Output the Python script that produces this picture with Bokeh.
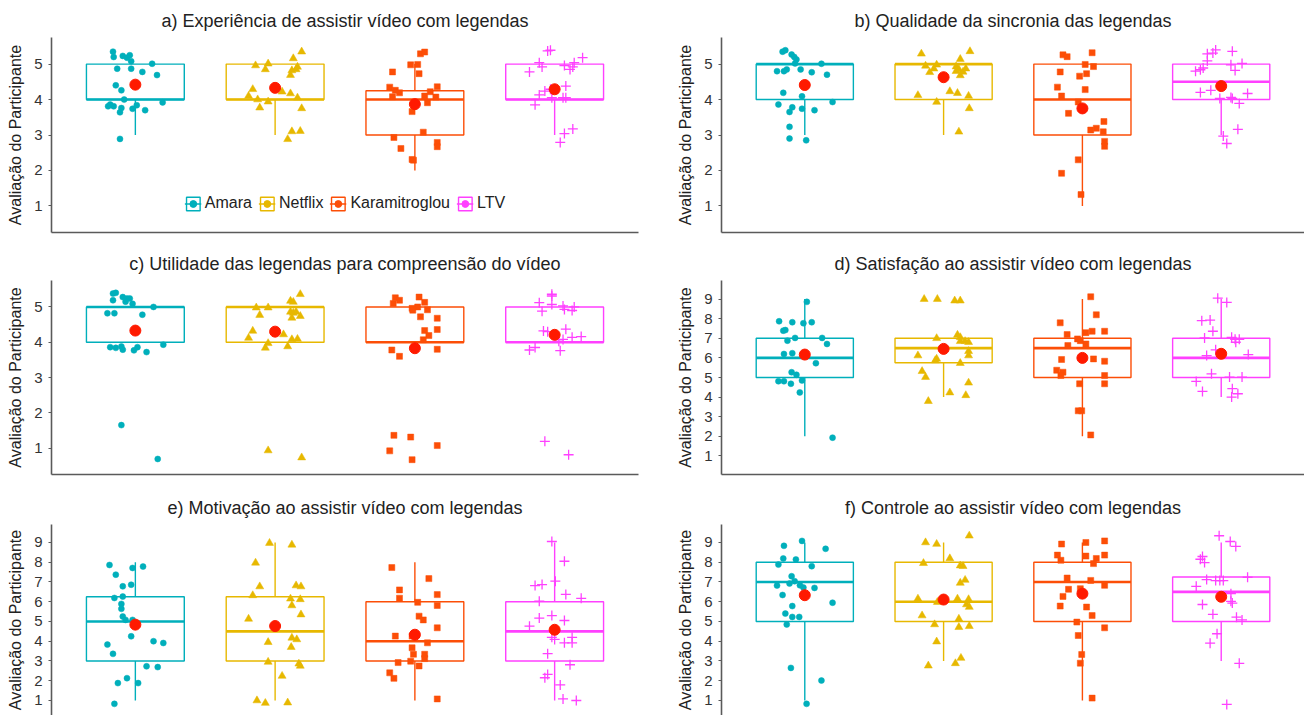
from bokeh.plotting import figure
from bokeh.layouts import gridplot
from bokeh.models import Range1d, FixedTicker, Legend, LegendItem, ColumnDataSource
from bokeh.embed import file_html
from bokeh.resources import INLINE

groups = ["Amara", "Netflix", "Karamitroglou", "LTV"]
colors = ["#00AFBB", "#E7B800", "#FC4E07", "#FF40FF"]
markers = ["circle", "triangle", "square", "cross"]
msizes = [6, 8, 6, 10]

titles = [
    "a) Experiência de assistir vídeo com legendas",
    "b) Qualidade da sincronia das legendas",
    "c) Utilidade das legendas para compreensão do vídeo",
    "d) Satisfação ao assistir vídeo com legendas",
    "e) Motivação ao assistir vídeo com legendas",
    "f) Controle ao assistir vídeo com legendas",
]
y_label = "Avaliação do Participante"
ticks_5 = [1, 2, 3, 4, 5]
ticks_9 = [1, 2, 3, 4, 5, 6, 7, 8, 9]

# ---------------- box statistics (Amara, Netflix, Karamitroglou, LTV) ----------------
a_q1 = [4, 4, 3, 4]; a_med = [4, 4, 4, 4]; a_q3 = [5, 5, 4.25, 5]; a_lo = [3, 3, 2, 3]; a_hi = [5, 5, 5, 5]
a_mean = [4.42, 4.33, 3.87, 4.29]
b_q1 = [4, 4, 3, 4]; b_med = [5, 5, 4, 4.5]; b_q3 = [5, 5, 5, 5]; b_lo = [3, 3, 1, 3]; b_hi = [5, 5, 5, 5]
b_mean = [4.41, 4.63, 3.75, 4.38]
c_q1 = [4, 4, 4, 4]; c_med = [5, 5, 4, 4]; c_q3 = [5, 5, 5, 5]; c_lo = [4, 4, 4, 4]; c_hi = [5, 5, 5, 5]
c_mean = [4.33, 4.30, 3.83, 4.21]
d_q1 = [5, 5.75, 5, 5]; d_med = [6, 6.5, 6.5, 6]; d_q3 = [7, 7, 7, 7]; d_lo = [2, 4, 2, 4]; d_hi = [9, 7, 9, 9]
d_mean = [6.17, 6.46, 6.0, 6.21]
e_q1 = [3, 3, 3, 3]; e_med = [5, 4.5, 4, 4.5]; e_q3 = [6.25, 6.25, 6, 6]; e_lo = [1, 1, 1, 1]; e_hi = [8, 9, 8, 9]
e_mean = [4.84, 4.77, 4.33, 4.58]
f_q1 = [5, 5, 5, 5]; f_med = [7, 6, 7, 6.5]; f_q3 = [8, 8, 8, 7.25]; f_lo = [1, 3, 1, 3]; f_hi = [9, 9, 9, 9]
f_mean = [6.33, 6.11, 6.41, 6.25]

# ---------------- jittered participant ratings (value, horizontal jitter) ----------------
a_amara_y = [5.35, 5.20, 5.23, 5.18, 5.25, 5.08, 4.87, 4.87, 4.78, 5.01, 4.69, 4.40, 4.26, 4.00, 3.81, 3.86, 3.81, 3.76, 3.64, 3.74, 3.84, 3.70, 3.92, 2.89]
a_amara_jit = [-0.16, -0.155, -0.09, -0.06, -0.04, -0.03, -0.13, -0.03, 0.05, 0.12, 0.155, -0.14, -0.10, -0.08, -0.195, -0.18, -0.155, -0.10, -0.11, -0.02, 0.01, 0.07, 0.195, -0.11]
a_netflix_y = [4.96, 5.01, 4.85, 5.35, 5.16, 4.82, 4.85, 4.92, 4.69, 4.29, 4.10, 4.00, 3.94, 3.77, 4.22, 4.17, 4.05, 3.75, 3.10, 3.11, 2.88]
a_netflix_jit = [-0.14, -0.05, -0.07, 0.19, 0.13, 0.12, 0.15, 0.16, 0.11, -0.16, -0.19, -0.125, -0.05, -0.11, 0.05, 0.11, 0.16, 0.19, 0.12, 0.18, 0.09]
a_karam_y = [5.29, 5.34, 4.98, 4.99, 4.78, 4.73, 4.35, 4.26, 4.19, 4.08, 4.36, 4.22, 4.10, 3.91, 4.07, 3.66, 2.93, 3.08, 2.79, 2.67, 2.62, 2.31, 2.29]
a_karam_jit = [0.04, 0.07, -0.03, 0.02, -0.16, 0.03, -0.18, -0.14, -0.11, -0.16, 0.16, 0.11, 0.07, 0.09, 0.15, -0.02, -0.15, 0.06, 0.16, 0.16, -0.10, -0.02, -0.01]
a_ltv_y = [5.37, 5.39, 5.18, 5.04, 5.04, 4.92, 4.78, 4.96, 4.85, 4.92, 4.38, 4.13, 4.24, 4.29, 4.05, 4.05, 3.85, 4.05, 3.04, 3.17, 2.79]
a_ltv_jit = [-0.05, -0.03, 0.20, 0.14, -0.11, -0.09, -0.18, 0.07, 0.11, 0.13, 0.08, -0.11, -0.07, -0.03, 0.06, 0.08, -0.14, -0.02, 0.07, 0.13, 0.04]

b_amara_y = [5.35, 5.39, 5.27, 5.20, 5.13, 5.02, 5.01, 4.80, 4.80, 4.85, 4.85, 4.77, 4.70, 4.19, 4.09, 3.93, 3.86, 3.78, 3.65, 3.74, 3.70, 3.23, 2.90, 2.85]
b_amara_jit = [-0.16, -0.14, -0.095, -0.076, -0.06, -0.07, 0.12, -0.20, -0.15, -0.13, -0.03, 0.05, 0.16, -0.155, -0.02, 0.20, -0.19, -0.09, -0.11, -0.02, 0.07, -0.11, -0.11, 0.01]
b_netflix_y = [5.29, 5.36, 5.14, 4.95, 4.98, 4.87, 4.77, 4.93, 4.85, 4.78, 4.87, 4.68, 4.80, 4.12, 4.23, 4.18, 4.10, 3.93, 3.75, 3.09]
b_netflix_jit = [-0.16, 0.19, 0.12, -0.13, -0.05, -0.07, -0.10, 0.09, 0.11, 0.14, 0.16, 0.12, 0.09, -0.185, 0.045, 0.10, 0.18, -0.05, 0.185, 0.11]
b_karam_y = [5.26, 5.21, 5.32, 4.78, 4.99, 4.93, 4.73, 4.66, 4.35, 4.28, 4.10, 3.93, 3.61, 3.38, 3.19, 3.14, 3.09, 2.82, 2.68, 2.30, 1.92, 1.32]
b_karam_jit = [-0.14, -0.11, 0.07, -0.16, 0.02, 0.08, 0.03, -0.02, -0.18, 0.02, -0.15, -0.03, -0.10, 0.155, 0.10, 0.06, 0.15, 0.16, 0.16, -0.03, -0.15, -0.01]
b_ltv_y = [5.29, 5.31, 5.40, 5.36, 5.09, 4.89, 4.80, 4.84, 4.98, 4.82, 5.02, 4.20, 4.26, 4.06, 4.03, 4.17, 3.89, 4.03, 2.97, 3.16, 2.76]
b_ltv_jit = [-0.10, -0.06, -0.04, 0.08, -0.10, -0.13, -0.185, -0.15, 0.07, 0.10, 0.15, -0.15, -0.075, 0.07, 0.08, 0.19, 0.13, -0.01, 0.015, 0.12, 0.04]

c_amara_y = [5.38, 5.40, 5.19, 5.28, 5.24, 5.24, 5.09, 5.15, 5.00, 4.82, 4.82, 4.78, 3.86, 3.88, 3.79, 3.77, 3.86, 3.72, 3.93, 3.84, 1.65, 0.69]
c_amara_jit = [-0.16, -0.14, -0.16, -0.09, -0.06, -0.04, -0.02, -0.07, 0.13, -0.20, -0.15, 0.05, -0.18, -0.10, -0.09, -0.01, 0.015, 0.08, 0.20, -0.14, -0.10, 0.16]
c_netflix_y = [4.98, 4.98, 5.36, 5.17, 5.14, 4.86, 4.83, 4.86, 4.69, 4.74, 4.77, 4.32, 4.12, 3.97, 3.84, 3.88, 4.08, 4.09, 4.22, 0.93, 0.73]
c_netflix_jit = [-0.135, -0.05, 0.18, 0.11, 0.13, 0.11, 0.13, 0.15, 0.12, 0.18, -0.11, -0.16, -0.19, -0.05, -0.07, 0.09, 0.12, 0.16, 0.06, -0.05, 0.19]
c_karam_y = [5.26, 5.19, 5.10, 5.28, 5.13, 4.96, 5.00, 4.92, 4.91, 4.72, 4.68, 4.36, 4.33, 4.19, 4.07, 3.78, 3.60, 3.80, 1.36, 0.92, 1.31, 0.67, 1.07]
c_karam_jit = [-0.14, -0.11, -0.155, 0.03, 0.07, -0.02, 0.02, 0.09, -0.015, 0.04, 0.16, 0.16, 0.07, 0.10, 0.06, -0.165, -0.11, 0.16, -0.15, -0.18, -0.03, -0.02, 0.16]
c_ltv_y = [5.36, 5.31, 5.12, 5.07, 4.88, 5.03, 4.93, 4.90, 5.00, 4.32, 4.30, 4.37, 4.03, 4.08, 4.14, 4.16, 3.78, 3.85, 3.76, 1.19, 0.81]
c_ltv_jit = [-0.02, -0.02, -0.11, -0.02, -0.09, 0.06, 0.07, 0.125, 0.14, -0.08, -0.05, 0.08, 0.03, 0.06, 0.125, 0.19, -0.18, -0.14, 0.04, -0.07, 0.10]

d_amara_y = [8.86, 7.87, 7.82, 7.77, 7.82, 7.39, 7.42, 7.02, 6.88, 7.02, 6.71, 6.20, 6.24, 5.73, 5.27, 5.14, 4.81, 4.81, 4.68, 4.85, 4.24, 1.93]
d_amara_jit = [0.015, -0.185, -0.09, -0.01, 0.05, -0.155, -0.14, -0.07, -0.125, 0.125, 0.16, -0.15, -0.09, 0.08, -0.095, -0.06, -0.19, -0.15, -0.10, -0.02, -0.036, 0.20]
d_netflix_y = [9.0, 9.0, 8.92, 8.92, 7.0, 7.17, 7.05, 6.85, 6.85, 6.80, 6.12, 5.95, 5.87, 6.34, 6.12, 5.73, 5.32, 5.02, 4.73, 4.23, 4.09, 3.79]
d_netflix_jit = [-0.14, -0.045, 0.08, 0.12, -0.05, 0.10, 0.12, 0.12, 0.155, 0.18, -0.185, -0.05, -0.06, 0.18, 0.18, 0.12, -0.155, -0.13, 0.18, 0.045, 0.16, -0.11]
d_karam_y = [9.12, 8.20, 7.79, 7.19, 7.29, 7.36, 7.36, 6.97, 6.88, 6.71, 6.63, 5.92, 5.95, 5.83, 5.37, 5.27, 5.10, 5.10, 4.68, 4.68, 3.30, 3.30, 2.07]
d_karam_jit = [0.06, 0.10, -0.16, -0.11, 0.025, 0.07, 0.16, -0.035, -0.015, 0.025, -0.105, -0.15, 0.08, 0.16, -0.185, -0.14, -0.155, 0.16, 0.16, -0.02, -0.03, -0.005, 0.06]
d_ltv_y = [9.05, 8.83, 7.90, 7.93, 7.36, 7.02, 7.05, 6.95, 6.80, 6.95, 6.41, 6.12, 6.17, 5.19, 5.02, 5.02, 4.80, 4.29, 4.43, 4.00, 4.17]
d_ltv_jit = [-0.025, 0.04, -0.14, -0.08, -0.06, -0.12, 0.075, 0.10, 0.105, 0.13, -0.04, -0.105, 0.195, -0.07, 0.06, 0.15, -0.18, -0.135, 0.08, 0.075, 0.12]

e_amara_y = [7.86, 7.37, 7.71, 7.78, 6.78, 6.86, 6.19, 6.26, 5.89, 5.64, 5.25, 5.08, 5.08, 4.25, 4.00, 3.91, 3.83, 3.36, 2.73, 2.69, 2.13, 1.88, 1.88, 0.83]
e_amara_jit = [-0.185, -0.14, -0.02, 0.055, -0.09, -0.03, -0.15, -0.09, -0.10, -0.10, -0.09, -0.07, -0.02, -0.03, 0.13, 0.20, -0.20, -0.16, 0.08, 0.16, -0.06, -0.125, 0.02, -0.15]
e_netflix_y = [8.97, 8.88, 7.97, 6.77, 6.32, 6.82, 6.77, 6.15, 6.12, 5.81, 5.35, 5.13, 3.95, 4.17, 4.09, 3.70, 2.95, 2.86, 2.75, 2.24, 1.00, 0.87, 0.89]
e_netflix_jit = [-0.04, 0.12, -0.14, -0.11, -0.16, 0.15, 0.185, 0.11, 0.18, 0.12, 0.185, -0.19, -0.05, 0.12, 0.155, 0.115, -0.05, 0.17, 0.18, 0.05, -0.13, -0.07, 0.09]
e_karam_y = [7.73, 7.17, 6.60, 6.18, 5.97, 6.36, 5.81, 5.27, 5.08, 4.68, 4.26, 4.26, 3.67, 3.92, 3.34, 3.34, 3.12, 2.92, 2.99, 2.75, 2.40, 2.12, 1.08]
e_karam_jit = [-0.165, 0.10, -0.11, -0.11, 0.02, 0.16, 0.16, 0.03, 0.06, 0.16, -0.14, -0.02, -0.02, 0.09, -0.01, 0.07, 0.07, -0.12, -0.03, 0.03, -0.18, -0.15, 0.16]
e_ltv_y = [9.05, 8.05, 6.82, 6.87, 7.04, 6.37, 6.17, 6.03, 5.17, 5.30, 5.05, 4.76, 4.20, 4.09, 3.92, 3.92, 4.20, 3.37, 2.81, 2.32, 2.15, 1.79, 1.08, 1.00]
e_ltv_jit = [-0.02, 0.07, -0.14, -0.09, 0.005, 0.08, 0.19, -0.11, -0.11, -0.02, 0.07, -0.18, -0.02, 0.0, 0.07, 0.125, 0.125, -0.05, 0.11, -0.05, -0.07, 0.04, 0.06, 0.155]

f_amara_y = [9.08, 8.83, 8.68, 8.19, 8.14, 7.88, 7.80, 7.29, 7.04, 6.92, 6.82, 6.83, 6.72, 6.70, 6.34, 5.95, 5.78, 5.40, 5.23, 5.23, 4.85, 2.65, 2.01, 0.83]
f_amara_jit = [-0.02, -0.15, 0.15, -0.155, -0.064, -0.19, 0.05, -0.095, -0.073, -0.11, -0.20, -0.035, -0.01, 0.07, -0.16, 0.20, -0.09, -0.14, -0.09, -0.04, -0.13, -0.10, 0.12, 0.013]
f_netflix_y = [9.34, 9.00, 8.92, 8.19, 7.95, 7.83, 7.80, 7.10, 6.95, 6.15, 6.15, 6.12, 5.98, 5.86, 5.73, 5.30, 5.13, 4.85, 4.71, 4.76, 3.98, 3.15, 2.88, 2.76]
f_netflix_jit = [0.185, -0.13, -0.05, 0.045, -0.145, 0.12, 0.14, 0.155, 0.12, -0.185, 0.10, 0.18, -0.045, 0.165, 0.185, -0.155, 0.11, -0.065, 0.11, 0.185, -0.05, 0.125, 0.085, -0.11]
f_karam_y = [8.92, 9.00, 9.08, 8.36, 8.10, 8.31, 8.19, 8.36, 7.93, 7.20, 7.08, 6.83, 6.63, 6.27, 6.66, 5.78, 5.73, 5.30, 4.97, 4.68, 4.29, 3.33, 2.89, 1.12]
f_karam_jit = [-0.15, 0.025, 0.16, -0.18, -0.155, 0.025, 0.10, 0.16, 0.08, -0.11, 0.06, 0.16, -0.10, -0.14, -0.015, -0.16, 0.03, 0.07, -0.04, 0.16, -0.03, -0.005, -0.015, 0.07]
f_ltv_y = [9.34, 9.05, 8.80, 8.29, 8.15, 7.98, 7.12, 7.07, 7.07, 7.07, 7.24, 6.78, 6.41, 6.02, 5.93, 5.86, 5.22, 5.08, 5.36, 4.38, 3.90, 2.88, 0.80]
f_ltv_jit = [-0.015, 0.065, 0.105, -0.135, -0.15, -0.12, -0.105, -0.04, -0.01, 0.015, 0.19, -0.18, 0.07, 0.07, 0.08, -0.135, 0.11, 0.15, -0.06, -0.03, -0.08, 0.13, 0.04]

FONT = "Liberation Sans"
AXIS_COL = "#5a5a5a"
TEXT_COL = "#222222"
MEAN_COL = "#FF1A00"
BOX_W = 0.7


def make_panel(title, ys, jits, stats, y_rng, ticks, col, row, legend=False):
    q1, med, q3, lo, hi, mean = stats
    if col == 0:
        left, fw, right = 51, 587, 30
    else:
        left, fw, right = 53, 583, 0
    if row == 0:
        top, fh, bottom = 37, 195, 12
    elif row == 1:
        top, fh, bottom = 36, 194, 14
    else:
        top, fh, bottom = 36, 191, 0
    p = figure(frame_width=fw, frame_height=fh, min_border_left=left, min_border_right=right,
               min_border_top=top, min_border_bottom=bottom,
               x_range=Range1d(0.4, 4.6), y_range=Range1d(*y_rng),
               output_backend="svg", toolbar_location=None, title=title)
    p.title.text_font = FONT
    p.title.text_font_size = "18px"
    p.title.text_font_style = "normal"
    p.title.text_color = TEXT_COL
    p.title.align = "center"
    p.title.standoff = 14
    p.outline_line_color = None
    p.grid.visible = False
    p.background_fill_color = "white"

    # y axis
    p.yaxis.ticker = FixedTicker(ticks=ticks)
    p.yaxis.axis_label = y_label
    p.yaxis.axis_label_text_font = FONT
    p.yaxis.axis_label_text_font_size = "16px"
    p.yaxis.axis_label_text_font_style = "normal"
    p.yaxis.axis_label_text_color = TEXT_COL
    p.yaxis.axis_label_standoff = 7
    p.yaxis.major_label_text_font = FONT
    p.yaxis.major_label_text_font_size = "15px"
    p.yaxis.major_label_text_color = "#333333"
    p.yaxis.major_label_standoff = 6
    p.yaxis.axis_line_color = AXIS_COL
    p.yaxis.axis_line_width = 1.6
    p.yaxis.major_tick_line_color = AXIS_COL
    p.yaxis.major_tick_line_width = 1.2
    p.yaxis.major_tick_in = 0
    p.yaxis.major_tick_out = 3
    p.yaxis.minor_tick_line_color = None

    # x axis: line only
    if row == 2:
        p.xaxis.visible = False
    else:
        p.xaxis.ticker = FixedTicker(ticks=[])
        p.xaxis.axis_line_color = AXIS_COL
        p.xaxis.axis_line_width = 1.6
        p.xaxis.major_tick_line_color = None
        p.xaxis.minor_tick_line_color = None
        p.xaxis.major_tick_out = 0
        p.xaxis.major_tick_in = 0
        p.xaxis.minor_tick_out = 0
        p.xaxis.major_label_standoff = 0
        p.xaxis.major_label_text_font_size = "0px"

    items = []
    for gi, g in enumerate(groups):
        xc = gi + 1
        c = colors[gi]
        box_src = ColumnDataSource(dict(x=[xc], q1=[q1[gi]], q3=[q3[gi]]))
        box_r = p.vbar(x="x", bottom="q1", top="q3", width=BOX_W, source=box_src,
                       fill_color="white", line_color=c, line_width=1.4)
        wh_src = ColumnDataSource(dict(x0=[xc, xc], y0=[q3[gi], q1[gi]], x1=[xc, xc], y1=[hi[gi], lo[gi]]))
        wh_r = p.segment(x0="x0", y0="y0", x1="x1", y1="y1", source=wh_src, line_color=c, line_width=1.4)
        med_src = ColumnDataSource(dict(x0=[xc - BOX_W / 2], x1=[xc + BOX_W / 2], y=[med[gi]]))
        p.segment(x0="x0", y0="y", x1="x1", y1="y", source=med_src, line_color=c, line_width=2.6)
        # group-coloured dot (hidden beneath the mean marker), used as the legend key point
        key_r = p.scatter(x=[xc], y=[mean[gi]], marker="circle", size=6, fill_color=c, line_color=c)
        xs = [xc + j for j in jits[gi]]
        pts = ColumnDataSource(dict(x=xs, y=ys[gi]))
        if markers[gi] == "cross":
            p.scatter(x="x", y="y", source=pts, marker="cross", size=msizes[gi],
                      line_color=c, line_width=1.3)
        else:
            p.scatter(x="x", y="y", source=pts, marker=markers[gi], size=msizes[gi],
                      fill_color=c, line_color=c, line_width=0.5)
        items.append(LegendItem(label=g, renderers=[box_r, wh_r, key_r]))
    p.scatter(x=[1, 2, 3, 4], y=mean, marker="circle", size=11,
              fill_color=MEAN_COL, line_color=MEAN_COL)

    if legend:
        lg = Legend(items=items, orientation="horizontal", location="bottom_center")
        lg.background_fill_alpha = 0
        lg.border_line_alpha = 0
        lg.label_text_font = FONT
        lg.label_text_font_size = "16px"
        lg.label_text_color = TEXT_COL
        lg.glyph_width = 17
        lg.glyph_height = 17
        lg.label_standoff = 4
        lg.spacing = 6
        lg.padding = 4
        lg.margin = 16
        p.add_layout(lg)
    return p


pa = make_panel(titles[0], [a_amara_y, a_netflix_y, a_karam_y, a_ltv_y],
                [a_amara_jit, a_netflix_jit, a_karam_jit, a_ltv_jit],
                (a_q1, a_med, a_q3, a_lo, a_hi, a_mean), (0.25, 5.75), ticks_5, 0, 0, legend=True)
pb = make_panel(titles[1], [b_amara_y, b_netflix_y, b_karam_y, b_ltv_y],
                [b_amara_jit, b_netflix_jit, b_karam_jit, b_ltv_jit],
                (b_q1, b_med, b_q3, b_lo, b_hi, b_mean), (0.25, 5.75), ticks_5, 1, 0)
pc = make_panel(titles[2], [c_amara_y, c_netflix_y, c_karam_y, c_ltv_y],
                [c_amara_jit, c_netflix_jit, c_karam_jit, c_ltv_jit],
                (c_q1, c_med, c_q3, c_lo, c_hi, c_mean), (0.25, 5.75), ticks_5, 0, 1)
pd_ = make_panel(titles[3], [d_amara_y, d_netflix_y, d_karam_y, d_ltv_y],
                 [d_amara_jit, d_netflix_jit, d_karam_jit, d_ltv_jit],
                 (d_q1, d_med, d_q3, d_lo, d_hi, d_mean), (0.05, 9.95), ticks_9, 1, 1)
pe = make_panel(titles[4], [e_amara_y, e_netflix_y, e_karam_y, e_ltv_y],
                [e_amara_jit, e_netflix_jit, e_karam_jit, e_ltv_jit],
                (e_q1, e_med, e_q3, e_lo, e_hi, e_mean), (0.24, 9.91), ticks_9, 0, 2)
pf = make_panel(titles[5], [f_amara_y, f_netflix_y, f_karam_y, f_ltv_y],
                [f_amara_jit, f_netflix_jit, f_karam_jit, f_ltv_jit],
                (f_q1, f_med, f_q3, f_lo, f_hi, f_mean), (0.24, 9.91), ticks_9, 1, 2)

grid = gridplot([[pa, pb], [pc, pd_], [pe, pf]], toolbar_location=None)

with open("out.html", "w") as fh:
    fh.write(file_html(grid, INLINE))
